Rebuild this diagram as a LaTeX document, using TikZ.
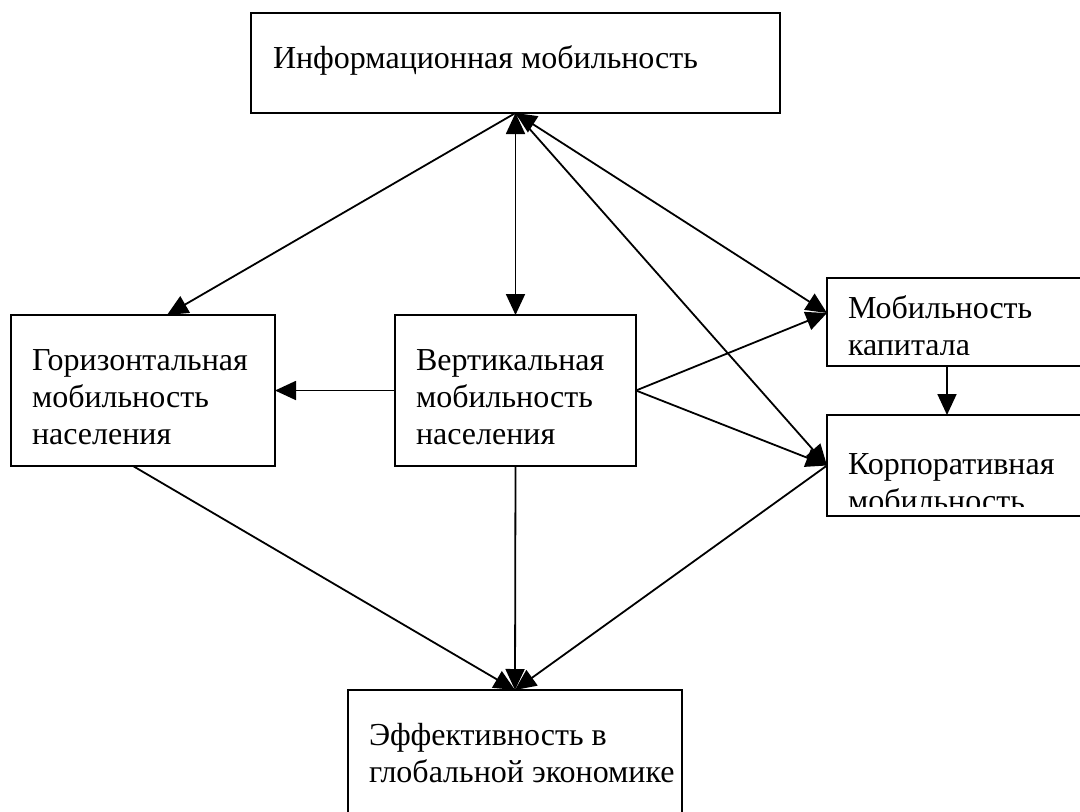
\documentclass[tikz,border=0pt]{standalone}
\usepackage{fontspec}
\setmainfont{Liberation Serif}
\usetikzlibrary{arrows.meta,calc}
\begin{document}
\begin{tikzpicture}[x=1pt,y=-1pt,
  box/.style={draw,line width=1.9pt,rectangle,inner sep=0pt,outer sep=0pt},
  lbl/.style={anchor=base west,inner sep=0pt,outer sep=0pt,font=\fontsize{32}{37}\selectfont},
  conn/.style={line width=1.8pt},
  onehead/.style={conn,-{Triangle[length=21pt,width=19pt]}},
  twohead/.style={conn,{Triangle[length=21pt,width=19pt]}-{Triangle[length=21pt,width=19pt]}}
]
\useasboundingbox (0,0) rectangle (1080,812);
\fill[white] (0,0) rectangle (1080,812);

% boxes
\node[box,minimum width=529pt,minimum height=100pt] (info) at (515.5,63) {};
\node[box,minimum width=264pt,minimum height=151pt] (hor) at (143,390.5) {};
\node[box,minimum width=241pt,minimum height=151pt] (ver) at (515.5,390.5) {};
\node[box,minimum width=273pt,minimum height=88pt] (cap) at (963.5,322) {};
\node[box,minimum width=273pt,minimum height=101pt] (corp) at (963.5,465.5) {};
\node[box,minimum width=334pt,minimum height=140pt] (eff) at (515,760) {};

% attachment points
\coordinate (capIn) at ([yshift=-35pt]cap.north west);

% texts
\node[lbl] (tinfo) at (273,68) {Информационная мобильность};
\node[lbl] (thor1) at (32,370) {Горизонтальная};
\node[lbl] (thor2) at (32,407) {мобильность};
\node[lbl] (thor3) at (32,444) {населения};
\node[lbl] (tver1) at (416,370) {Вертикальная};
\node[lbl] (tver2) at (416,407) {мобильность};
\node[lbl] (tver3) at (416,444) {населения};
\begin{scope}
  \clip (828,279) rectangle (1080,354);
  \node[lbl] (tcap1) at (848,318) {Мобильность};
  \node[lbl] (tcap2) at (848,355) {капитала};
\end{scope}
\begin{scope}
  \clip (828,416) rectangle (1080,506);
  \node[lbl] (tcorp1) at (848,474) {Корпоративная};
  \node[lbl] (tcorp2) at (848,511) {мобильность};
\end{scope}
\node[lbl] (teff1) at (369,745) {Эффективность в};
\node[lbl] (teff2) at (369,782) {глобальной экономике};

% connectors
\draw[twohead] (info.south) -- (ver.north);
\draw[onehead] (info.south) -- ([xshift=156pt]hor.north west);
\draw[twohead] (info.south) -- (capIn);
\draw[onehead] (info.south) -- (corp.west);
\draw[onehead] (ver.west) -- (hor.east);
\draw[onehead] (ver.east) -- (capIn);
\draw[onehead] (ver.east) -- (corp.west);
\draw[onehead] ([xshift=120pt]cap.south west) -- ([xshift=120pt]corp.north west);
\draw[onehead] (ver.south) -- (eff.north);
\draw[onehead] ([xshift=122pt]hor.south west) -- (eff.north);
\draw[onehead] (corp.west) -- (eff.north);
\end{tikzpicture}
\end{document}
